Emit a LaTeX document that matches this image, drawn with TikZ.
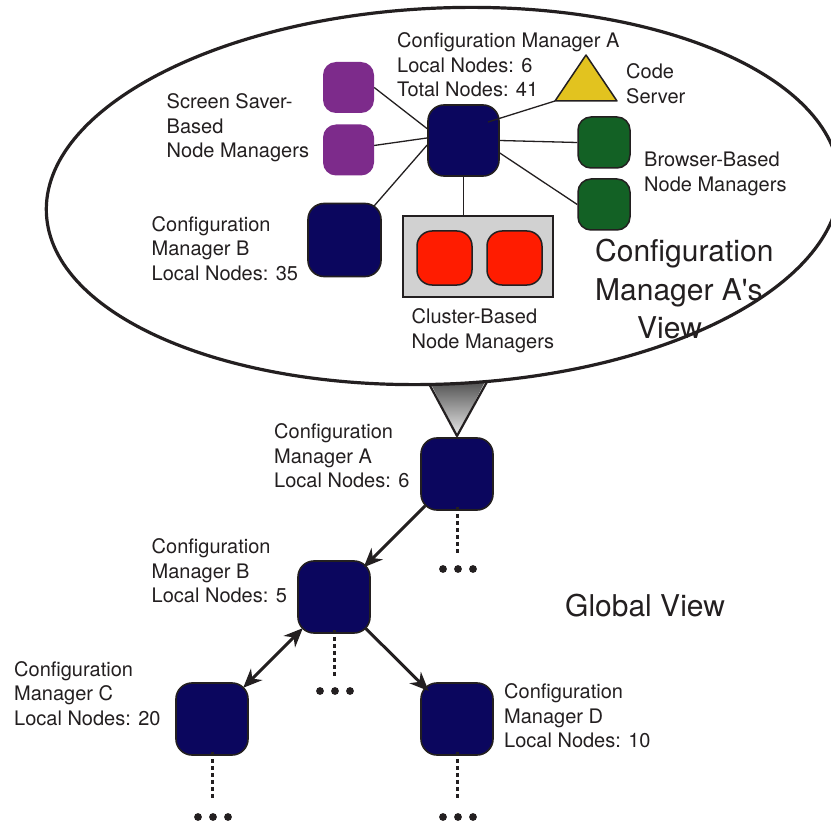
\documentclass[tikz,border=0pt]{standalone}
\usepackage{fontspec}
\setmainfont{TeX Gyre Heros}
\usetikzlibrary{arrows.meta,calc}
\pgfdeclarelayer{bg}
\pgfdeclarelayer{mid}
\pgfsetlayers{bg,mid,main}
\definecolor{navy}{RGB}{11,6,94}
\definecolor{purp}{RGB}{125,43,139}
\definecolor{grn}{RGB}{19,97,37}
\definecolor{rd}{RGB}{255,28,0}
\definecolor{gbox}{RGB}{209,209,209}
\definecolor{ylw}{RGB}{226,195,31}
\definecolor{ink}{RGB}{35,31,32}
\begin{document}
\begin{tikzpicture}[x=1pt,y=-1pt,
  mgr/.style={draw=ink,line width=1.6pt,fill=navy,rounded corners=16pt,minimum size=72pt,inner sep=0pt},
  smallbox/.style={rounded corners=13pt,minimum size=51pt,inner sep=0pt},
  lbl/.style={font=\fontsize{20}{24.5}\selectfont,text=ink,align=left,anchor=north west,inner sep=0pt},
  bigtext/.style={font=\fontsize{30}{38.5}\selectfont,text=ink,align=left,anchor=north west,inner sep=0pt},
  link/.style={draw=ink,line width=1.3pt},
  tipA/.tip={Stealth[length=19pt,width=16pt,inset=6pt]},
  arr/.style={draw=ink,line width=3pt},
  dashline/.style={draw=ink,line width=3pt,dash pattern=on 4pt off 3pt},
]
\useasboundingbox (0,0) rectangle (831,824);

% ---- nodes of the view ----
\node[mgr,minimum size=71pt] (tA) at (463.5,140.5) {};
\node[smallbox,fill=purp] (p1) at (348.5,87.5) {};
\node[smallbox,fill=purp] (p2) at (348.5,150) {};
\node[smallbox,draw=ink,line width=1.5pt,fill=grn,minimum width=52pt] (g1) at (604,142.5) {};
\node[smallbox,draw=ink,line width=1.5pt,fill=grn,minimum width=52pt] (g2) at (604,204.5) {};
\node[mgr,minimum size=73pt] (tB) at (344.5,240) {};
\node[draw=ink,line width=1.3pt,fill=gbox,minimum width=150pt,minimum height=81pt,inner sep=0pt] (cl) at (478,256.5) {};
\node[smallbox,draw=ink,line width=1.5pt,fill=rd,minimum width=55pt,minimum height=54pt,rounded corners=15pt] (r1) at (444.5,258) {};
\node[smallbox,draw=ink,line width=1.5pt,fill=rd,minimum width=55pt,minimum height=54pt,rounded corners=15pt] (r2) at (514.5,258) {};
\draw[ink,line width=1.5pt,fill=ylw,line join=round] (586,55) -- (617,101) -- (555,101) coordinate (cs) -- cycle;

% ---- global nodes ----
\node[mgr] (A) at (457,474) {};
\node[mgr] (B) at (334,597) {};
\node[mgr] (C) at (212,719) {};
\node[mgr] (D) at (457,719) {};

% ---- bubble ----
\begin{pgfonlayer}{bg}
  \shade[top color=black!78,bottom color=black!8] (425,372) -- (490,372) -- (457,436) -- cycle;
  \draw[ink,line width=2.2pt,line join=round] (427,380) -- (457,436) -- (488,380);
  \draw[ink,line width=3.2pt,fill=white,rotate around={2.5:(443,196)}] (443,196) ellipse [x radius=397pt, y radius=188pt];
\end{pgfonlayer}

% ---- links in the view ----
\begin{pgfonlayer}{mid}
  \draw[link] (p1.east) -- (tA.162);
  \draw[link] (p2.10) -- (tA.176);
  \draw[link] (tB.center) -- (tA.187);
  \draw[link] (tA.east) -- (g1.west);
  \draw[link] (tA.341) -- (g2.west);
  \draw[link] (tA.south) -- (tA.south |- cl.north);
\end{pgfonlayer}
\draw[link] (cs) -- ($(tA.center)+(24.5,-18.5)$);

% ---- arrows ----
\draw[arr,-tipA,shorten <=-7pt,shorten >=-10pt] (A) -- (B);
\draw[arr,tipA-tipA,shorten <=-8pt,shorten >=-8pt] (B) -- (C);
\draw[arr,-tipA,shorten <=-7pt,shorten >=-12pt] (B) -- (D);

% ---- continuation marks ----
\foreach \n/\d in {A/95,B/94,C/98,D/98}{
  \draw[dashline] ($(\n.south)+(0,-4)$) -- ++(0,46);
  \foreach \dx in {-15,0,15}
    \fill[ink] ($(\n.center)+(\dx+1,\d)$) circle (3.9pt);
}

% ---- labels ----
\node[lbl] (tAl) at (397,32.5) {Configuration Manager A\\Local Nodes: 6\\Total Nodes: 41};
\node[lbl] (csl) at (626,63.5) {Code\\Server};
\node[lbl] (ssl) at (166.5,93.5) {Screen Saver-\\Based\\Node Managers};
\node[lbl] (bbl) at (644,152) {Browser-Based\\Node Managers};
\node[lbl] (tBl) at (151.5,216) {Configuration\\Manager B\\Local Nodes: 35};
\node[lbl] (cll) at (411.5,308.5) {Cluster-Based\\Node Managers};
\node[bigtext] (view) at (595,239) {Configuration\\Manager A\textquotesingle s\\\hspace*{42pt}View};
\node[lbl] (Al) at (274,423.5) {Configuration\\Manager A\\Local Nodes: 6};
\node[lbl] (Bl) at (151.5,538.5) {Configuration\\Manager B\\Local Nodes: 5};
\node[bigtext] (gv) at (565,594) {Global View};
\node[lbl] (Cl) at (14,661) {Configuration\\Manager C\\Local Nodes: 20};
\node[lbl] (Dl) at (504,683.5) {Configuration\\Manager D\\Local Nodes: 10};
\end{tikzpicture}
\end{document}
